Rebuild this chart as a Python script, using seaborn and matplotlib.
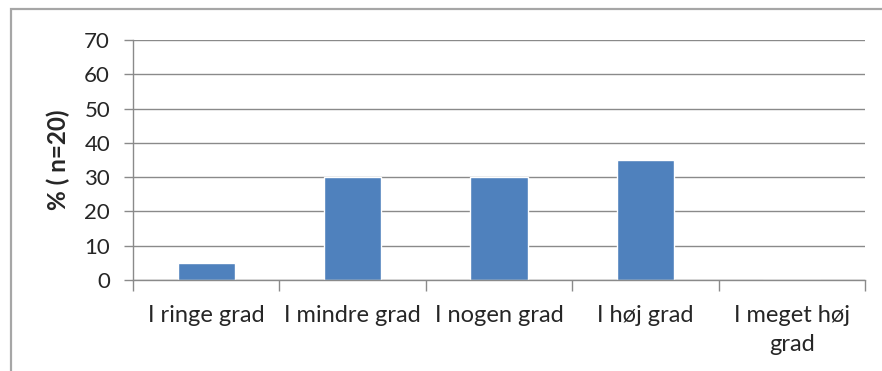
import matplotlib
matplotlib.use("Agg")
import matplotlib.pyplot as plt
from matplotlib.patches import Rectangle
from matplotlib.ticker import FixedLocator
import seaborn as sns
import pandas as pd

categories = ["I ringe grad", "I mindre grad", "I nogen grad", "I høj grad", "I meget høj\ngrad"]
values = [5, 30, 30, 35, 0]
y_ticks = [0, 10, 20, 30, 40, 50, 60, 70]
y_label = "% ( n=20)"

sns.set_theme(style="white")
plt.rcParams["font.family"] = ["Lato", "DejaVu Sans"]

df = pd.DataFrame({"kategori": categories, "procent": values})

fig = plt.figure(figsize=(8.82, 3.71), dpi=100)
fig.patch.set_facecolor("white")
ax = fig.add_axes([133 / 882, 1 - 280 / 371, (865 - 133) / 882, (280 - 40) / 371])

sns.barplot(data=df, x="kategori", y="procent", color="#4F81BD", width=0.39,
            saturation=1, ax=ax)

grey = "#8a8a8a"
text_col = "#262626"
ax.set_ylim(0, 70)
ax.set_xlim(-0.5, len(categories) - 0.5)
ax.set_yticks(y_ticks)
ax.yaxis.grid(True, color=grey, linewidth=1)
ax.set_axisbelow(True)
for side in ("top", "right"):
    ax.spines[side].set_visible(False)
for side in ("left", "bottom"):
    ax.spines[side].set_color(grey)
    ax.spines[side].set_linewidth(1)

# category boundary ticks below the axis
ax.xaxis.set_minor_locator(FixedLocator([i - 0.5 for i in range(len(categories) + 1)]))
ax.tick_params(axis="x", which="major", length=0, pad=18, labelsize=17, colors=text_col)
ax.tick_params(axis="x", which="minor", length=8, width=1, color=grey, bottom=True)
ax.tick_params(axis="y", which="major", length=6.5, width=1, color=grey, left=True,
               labelsize=16, pad=10, labelcolor=text_col)
for lbl in ax.get_xticklabels():
    lbl.set_linespacing(1.45)
    lbl.set_verticalalignment("top")

ax.set_xlabel("")
ax.set_ylabel(y_label, fontsize=17.5, fontweight="bold", color=text_col, labelpad=10)

# outer frame of the chart area
fig.patches.append(Rectangle((11 / 882, -0.1), 1.2, 1 - 9 / 371 + 0.1,
                             transform=fig.transFigure, fill=False,
                             edgecolor="#a6a6a6", linewidth=1.6))

fig.savefig("out.png", dpi=100)
